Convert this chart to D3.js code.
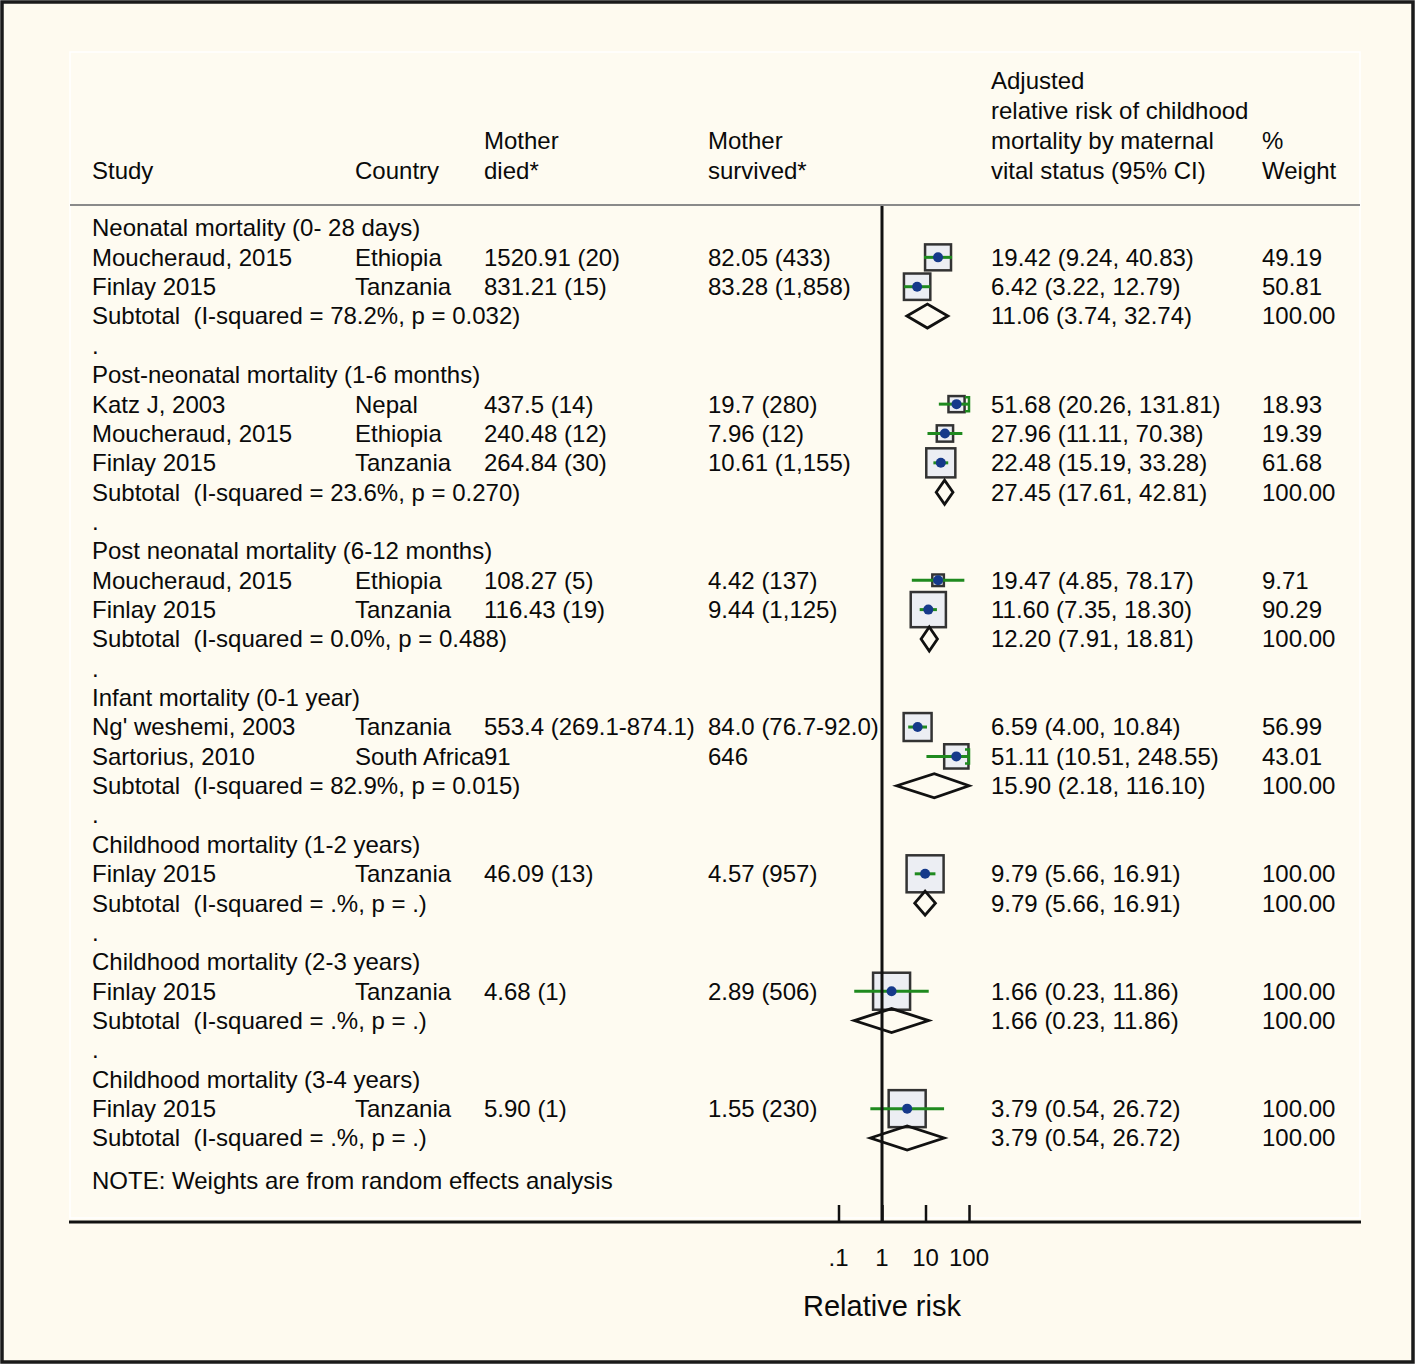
<!DOCTYPE html>
<html><head><meta charset="utf-8">
<script src="https://cdn.jsdelivr.net/npm/d3@7"></script>
<style>
html,body{margin:0;padding:0;background:#fff;}
text{font-family:"Liberation Sans",Arial,sans-serif;fill:#0a0a0a;white-space:pre;}
</style></head>
<body>
<svg id="chart" width="1418" height="1366"></svg>
<script>
// ---- data ----
const groups = [
  "Neonatal mortality (0- 28 days)",
  "Post-neonatal mortality (1-6 months)",
  "Post neonatal mortality (6-12 months)",
  "Infant mortality (0-1 year)",
  "Childhood mortality (1-2 years)",
  "Childhood mortality (2-3 years)",
  "Childhood mortality (3-4 years)"
];
const studyGroup   = [0,0, 1,1,1, 2,2, 3,3, 4, 5, 6];
const studyNames   = ["Moucheraud, 2015","Finlay 2015","Katz J, 2003","Moucheraud, 2015","Finlay 2015","Moucheraud, 2015","Finlay 2015","Ng' weshemi, 2003","Sartorius, 2010","Finlay 2015","Finlay 2015","Finlay 2015"];
const countries    = ["Ethiopia","Tanzania","Nepal","Ethiopia","Tanzania","Ethiopia","Tanzania","Tanzania","South Africa","Tanzania","Tanzania","Tanzania"];
const motherDied   = ["1520.91 (20)","831.21 (15)","437.5 (14)","240.48 (12)","264.84 (30)","108.27 (5)","116.43 (19)","553.4 (269.1-874.1)","91","46.09 (13)","4.68 (1)","5.90 (1)"];
const motherSurv   = ["82.05 (433)","83.28 (1,858)","19.7 (280)","7.96 (12)","10.61 (1,155)","4.42 (137)","9.44 (1,125)","84.0 (76.7-92.0)","646","4.57 (957)","2.89 (506)","1.55 (230)"];
const studyRR      = [19.42, 6.42, 51.68, 27.96, 22.48, 19.47, 11.60, 6.59, 51.11, 9.79, 1.66, 3.79];
const studyLo      = [9.24, 3.22, 20.26, 11.11, 15.19, 4.85, 7.35, 4.00, 10.51, 5.66, 0.23, 0.54];
const studyHi      = [40.83, 12.79, 131.81, 70.38, 33.28, 78.17, 18.30, 10.84, 248.55, 16.91, 11.86, 26.72];
const studyWeight  = [49.19, 50.81, 18.93, 19.39, 61.68, 9.71, 90.29, 56.99, 43.01, 100.00, 100.00, 100.00];
const subLabels    = ["78.2%, p = 0.032","23.6%, p = 0.270","0.0%, p = 0.488","82.9%, p = 0.015",".%, p = .",".%, p = .",".%, p = ."];
const subRR        = [11.06, 27.45, 12.20, 15.90, 9.79, 1.66, 3.79];
const subLo        = [3.74, 17.61, 7.91, 2.18, 5.66, 0.23, 0.54];
const subHi        = [32.74, 42.81, 18.81, 116.10, 16.91, 11.86, 26.72];
const subWeight    = [100.00, 100.00, 100.00, 100.00, 100.00, 100.00, 100.00];
const tickValues   = [0.1, 1, 10, 100];
const tickLabels   = [".1", "1", "10", "100"];

// ---- layout ----
const svg = d3.select("#chart");
const f2 = d3.format(".2f");
const x = d3.scaleLog().domain([0.1, 100]).range([838.5, 969]);
const y = d3.scaleLinear().domain([0, 31]).range([228, 1138]);
const boxSize = d3.scaleSqrt().domain([0, 100]).range([0, 37]);
const col = {study: 92, country: 355, died: 484, surv: 708, rr: 991, w: 1262};
const FS = 24;

// build rows
const rows = [];
let r = 0;
groups.forEach((g, gi) => {
  rows.push({type: "group", idx: r++, label: g});
  studyGroup.forEach((sg, si) => { if (sg === gi) rows.push({type: "study", idx: r++, s: si}); });
  rows.push({type: "sub", idx: r++, g: gi});
  if (gi < groups.length - 1) rows.push({type: "dot", idx: r++});
});

// backgrounds
svg.append("rect").attr("x", 2).attr("y", 2).attr("width", 1411).attr("height", 1360)
  .attr("fill", "#fefaef").attr("stroke", "#1a1a1a").attr("stroke-width", 3.5);
svg.append("rect").attr("x", 70).attr("y", 52).attr("width", 1290).attr("height", 1166)
  .attr("fill", "#fefbf1").attr("stroke", "#ffffff").attr("stroke-width", 1.5);

// header
const hdr = svg.append("g");
function htext(xp, yp, t) {
  hdr.append("text").attr("x", xp).attr("y", yp).attr("dy", "0.35em").attr("font-size", FS).text(t);
}
htext(col.study, 171, "Study");
htext(col.country, 171, "Country");
htext(col.died, 141, "Mother"); htext(col.died, 171, "died*");
htext(col.surv, 141, "Mother"); htext(col.surv, 171, "survived*");
htext(col.rr, 81, "Adjusted");
htext(col.rr, 111, "relative risk of childhood");
htext(col.rr, 141, "mortality by maternal");
htext(col.rr, 171, "vital status (95% CI)");
htext(col.w, 141, "%"); htext(col.w, 171, "Weight");
svg.append("line").attr("x1", 70).attr("x2", 1360).attr("y1", 205).attr("y2", 205)
  .attr("stroke", "#8a8a8a").attr("stroke-width", 2);

// text rows
const tg = svg.append("g");
function t(xp, yp, s) {
  tg.append("text").attr("x", xp).attr("y", yp).attr("dy", "0.35em").attr("font-size", FS).text(s);
}
rows.forEach(row => {
  const yy = y(row.idx);
  if (row.type === "group") t(col.study, yy, row.label);
  else if (row.type === "dot") t(col.study, yy, ".");
  else if (row.type === "study") {
    const s = row.s;
    t(col.study, yy, studyNames[s]);
    t(col.country, yy, countries[s]);
    t(col.died, yy, motherDied[s]);
    t(col.surv, yy, motherSurv[s]);
    t(col.rr, yy, `${f2(studyRR[s])} (${f2(studyLo[s])}, ${f2(studyHi[s])})`);
    t(col.w, yy, f2(studyWeight[s]));
  } else if (row.type === "sub") {
    const g = row.g;
    t(col.study, yy, `Subtotal  (I-squared = ${subLabels[g]})`);
    t(col.rr, yy, `${f2(subRR[g])} (${f2(subLo[g])}, ${f2(subHi[g])})`);
    t(col.w, yy, f2(subWeight[g]));
  }
});
t(col.study, y(32.45), "NOTE: Weights are from random effects analysis");

// plot marks
const pg = svg.append("g");
const xmin = x.range()[0], xmax = x.range()[1];
const clamp = v => Math.max(xmin, Math.min(xmax, x(v)));
rows.filter(d => d.type === "study").forEach(row => {
  const s = row.s, yy = y(row.idx), b = boxSize(studyWeight[s]);
  const cx = x(studyRR[s]);
  pg.append("rect").attr("x", cx - b / 2).attr("y", yy - b / 2).attr("width", b).attr("height", b)
    .attr("fill", "#eceef3").attr("stroke", "#333").attr("stroke-width", 2.5);
  const x1 = clamp(studyLo[s]), x2 = clamp(studyHi[s]);
  pg.append("line").attr("x1", x1).attr("x2", x2).attr("y1", yy).attr("y2", yy)
    .attr("stroke", "#1f8a1f").attr("stroke-width", 3);
  if (x(studyHi[s]) > xmax) {
    pg.append("path").attr("d", `M${xmax - 4},${yy - 7}L${xmax},${yy - 7}L${xmax},${yy + 7}L${xmax - 4},${yy + 7}`)
      .attr("fill", "none").attr("stroke", "#1f8a1f").attr("stroke-width", 2.5);
  }
  pg.append("circle").attr("cx", cx).attr("cy", yy).attr("r", 5).attr("fill", "#15398a");
});
rows.filter(d => d.type === "sub").forEach(row => {
  const g = row.g, yy = y(row.idx), h = 12;
  const xl = clamp(subLo[g]), xr = clamp(subHi[g]), xc = x(subRR[g]);
  pg.append("path").attr("d", `M${xl},${yy}L${xc},${yy - h}L${xr},${yy}L${xc},${yy + h}Z`)
    .attr("fill", "none").attr("stroke", "#111").attr("stroke-width", 2.8);
});

// null line at 1
svg.append("line").attr("x1", x(1)).attr("x2", x(1)).attr("y1", 206).attr("y2", 1222)
  .attr("stroke", "#111").attr("stroke-width", 3);

// axis
const axisY = 1222;
svg.append("line").attr("x1", 69).attr("x2", 1361).attr("y1", axisY).attr("y2", axisY)
  .attr("stroke", "#111").attr("stroke-width", 3);
const ag = svg.append("g").attr("transform", `translate(0,${axisY})`);
const axis = d3.axisTop(x).tickValues(tickValues).tickSize(17)
  .tickFormat(() => "");
ag.call(axis);
ag.select(".domain").remove();
ag.selectAll(".tick line").attr("stroke", "#111").attr("stroke-width", 2.5);
tickValues.forEach((v, i) => {
  svg.append("text").attr("x", x(v)).attr("y", 1258).attr("dy", "0.35em")
    .attr("text-anchor", "middle").attr("font-size", 24).text(tickLabels[i]);
});
svg.append("text").attr("x", x(1)).attr("y", 1306).attr("dy", "0.35em")
  .attr("text-anchor", "middle").attr("font-size", 29).text("Relative risk");
</script>
</body></html>
